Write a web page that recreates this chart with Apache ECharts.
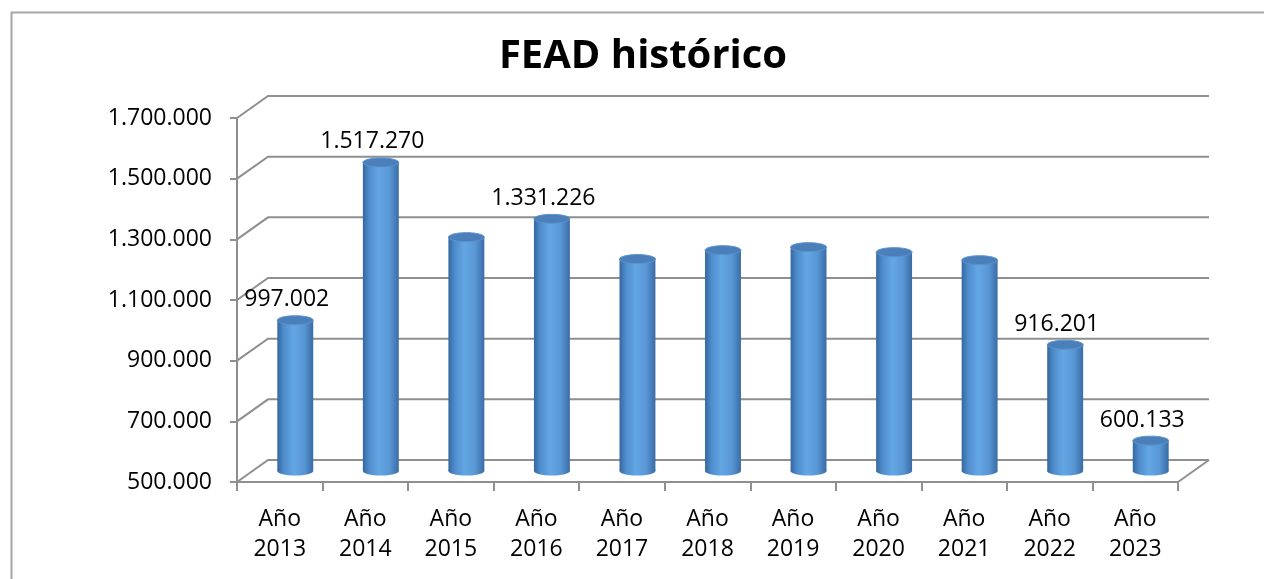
<!DOCTYPE html>
<html>
<head>
<meta charset="utf-8">
<script src="https://cdn.jsdelivr.net/npm/echarts@6/dist/echarts.min.js"></script>
<style>
  html, body { margin: 0; padding: 0; background: #fff; }
  #chart { width: 1264px; height: 579px; }
</style>
</head>
<body>
<div id="chart"></div>
<script>
// datos
const years = ['2013', '2014', '2015', '2016', '2017', '2018', '2019', '2020', '2021', '2022', '2023'];
const values = [997002, 1517270, 1271000, 1331226, 1198500, 1228000, 1238000, 1221500, 1195000, 916201, 600133];
const showLabel = [true, true, false, true, false, false, false, false, false, true, true];
const yTicks = [500000, 700000, 900000, 1100000, 1300000, 1500000, 1700000];

// profundidad del "3D" (px)
const DX = 31;
const DY = -22;
const FONT = '"Open Sans", Lato, sans-serif';
const GRID_COLOR = '#8f8f8f';

function fmt(v) {
  return String(v).replace(/\B(?=(\d{3})+(?!\d))/g, '.');
}

const chart = echarts.init(document.getElementById('chart'));

// pared del fondo + líneas diagonales del lateral izquierdo
function renderWall(params, api) {
  const cs = params.coordSys;
  const v = api.value(0);
  const y = api.coord([0, v])[1];
  const x0 = cs.x;
  const x1 = cs.x + cs.width;
  const children = [{
    type: 'polyline',
    shape: { points: [[x0, y], [x0 + DX, y + DY], [x1 + DX, y + DY]] },
    style: { stroke: GRID_COLOR, lineWidth: 2, fill: null },
  }];
  if (v === yTicks[0]) {
    children.push({
      type: 'line',
      shape: { x1: x1, y1: y, x2: x1 + DX, y2: y + DY },
      style: { stroke: GRID_COLOR, lineWidth: 2 },
    });
  }
  return { type: 'group', children };
}

// cilindros
function renderCylinder(params, api) {
  const idx = api.value(0);
  const val = api.value(1);
  const top = api.coord([idx, val]);
  const base = api.coord([idx, yTicks[0]]);
  const band = api.size([1, 0])[0];
  const w = band * 0.42;
  const cx = top[0] + DX / 2;
  const yTop = top[1] + DY / 2;
  const yBase = base[1] + DY / 2;
  const ry = 4.5;
  const body = new echarts.graphic.LinearGradient(0, 0, 1, 0, [
    { offset: 0, color: '#3567a0' },
    { offset: 0.18, color: '#4f8dcc' },
    { offset: 0.45, color: '#64a6e4' },
    { offset: 0.75, color: '#5896d4' },
    { offset: 1, color: '#3a6ca6' },
  ]);
  const children = [
    {
      type: 'ellipse',
      shape: { cx, cy: yBase, rx: w / 2, ry },
      style: { fill: body },
    },
    {
      type: 'rect',
      shape: { x: cx - w / 2, y: yTop, width: w, height: yBase - yTop },
      style: { fill: body },
    },
    {
      type: 'ellipse',
      shape: { cx, cy: yTop, rx: w / 2, ry },
      style: { fill: '#4a7fba', stroke: '#5b93cf', lineWidth: 1 },
    },
  ];
  if (showLabel[idx]) {
    children.push({
      type: 'text',
      x: top[0] + 7,
      y: yTop - 9,
      style: {
        text: fmt(values[idx]),
        font: '23px ' + FONT,
        fill: '#000',
        align: 'center',
        verticalAlign: 'bottom',
      },
    });
  }
  return { type: 'group', children };
}

const option = {
  animation: false,
  grid: { left: 237, right: 86, top: 118, bottom: 97, containLabel: false },
  xAxis: {
    type: 'category',
    data: years,
    boundaryGap: true,
    axisLine: { show: true, lineStyle: { color: GRID_COLOR, width: 2 } },
    axisTick: { show: true, length: 9, lineStyle: { color: GRID_COLOR, width: 2 } },
    axisLabel: {
      interval: 0,
      margin: 22,
      fontFamily: FONT,
      fontSize: 23,
      lineHeight: 30,
      color: '#000',
      formatter: (y) => 'Año\n' + y,
    },
    splitLine: { show: false },
  },
  yAxis: {
    type: 'value',
    min: yTicks[0],
    max: yTicks[yTicks.length - 1],
    interval: 200000,
    axisLine: { show: true, lineStyle: { color: GRID_COLOR, width: 2 } },
    axisTick: { show: true, length: 7, lineStyle: { color: GRID_COLOR, width: 2 } },
    axisLabel: {
      margin: 25,
      fontFamily: FONT,
      fontSize: 23,
      color: '#000',
      formatter: (v) => fmt(v),
    },
    splitLine: { show: false },
  },
  graphic: [
    {
      type: 'rect',
      left: 9,
      top: 10,
      shape: { width: 1300, height: 620 },
      style: { fill: null, stroke: '#a6a6a6', lineWidth: 2 },
      silent: true,
    },
    {
      type: 'text',
      x: 643,
      y: 57,
      style: {
        text: 'FEAD histórico',
        font: 'bold 40px ' + FONT,
        fill: '#000',
        align: 'center',
        verticalAlign: 'middle',
      },
    },
  ],
  series: [
    {
      type: 'custom',
      name: 'wall',
      renderItem: renderWall,
      data: yTicks.map((v) => [v]),
      encode: { y: 0 },
      silent: true,
      z: 1,
    },
    {
      type: 'custom',
      name: 'FEAD',
      renderItem: renderCylinder,
      data: values.map((v, i) => [i, v]),
      encode: { x: 0, y: 1 },
      z: 3,
    },
  ],
};

chart.setOption(option);
</script>
</body>
</html>
